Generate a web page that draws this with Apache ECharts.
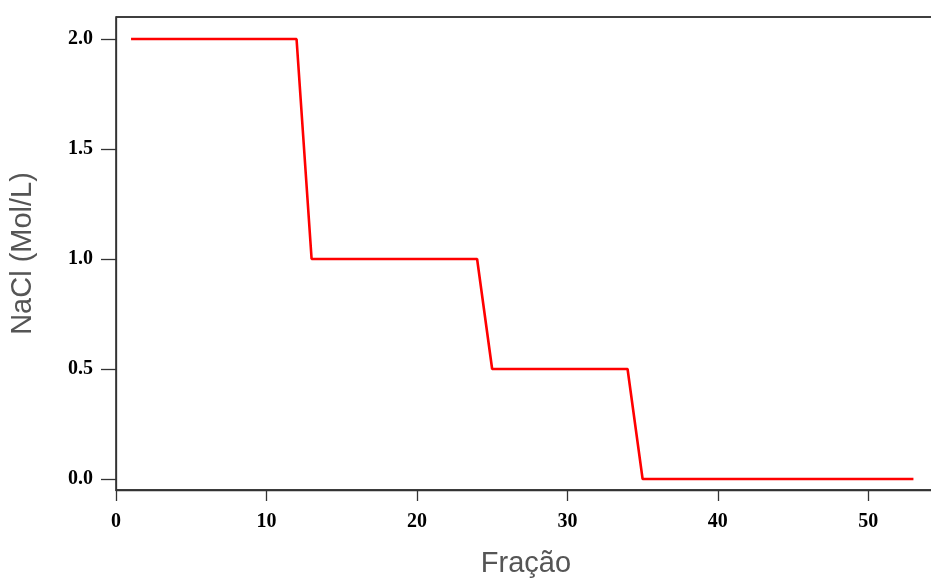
<!DOCTYPE html>
<html>
<head>
<meta charset="utf-8">
<script src="https://cdn.jsdelivr.net/npm/echarts@6/dist/echarts.min.js"></script>
<style>html,body{margin:0;padding:0;background:#fff;}#c{width:931px;height:579px;}</style>
</head>
<body>
<div id="c"></div>
<script>
const fracao = [1, 12, 13, 24, 25, 34, 35, 53];
const nacl = [2.0, 2.0, 1.0, 1.0, 0.5, 0.5, 0.0, 0.0];
const xTicks = [0, 10, 20, 30, 40, 50];
const yTicks = [0.0, 0.5, 1.0, 1.5, 2.0];

const chart = echarts.init(document.getElementById('c'));
chart.setOption({
  animation: false,
  backgroundColor: '#ffffff',
  grid: {left: 116, top: 17, width: 820, height: 473, show: true, borderColor: '#000', borderWidth: 1.3,
    backgroundColor: 'transparent', outerBoundsMode: 'none', containLabel: false},
  xAxis: {
    type: 'value', min: 0, max: 54.5,
    name: 'Fração', nameLocation: 'middle', nameGap: 59,
    nameTextStyle: {fontFamily: 'Liberation Sans', fontSize: 29, color: '#555555'},
    axisLine: {show: true, onZero: false, lineStyle: {color: '#333', width: 1.3}},
    axisTick: {show: true, length: 11, lineStyle: {color: '#333', width: 1.3}, customValues: xTicks},
    axisLabel: {customValues: xTicks, margin: 22, fontFamily: 'Liberation Serif', fontWeight: 'bold', fontSize: 20, color: '#000'},
    splitLine: {show: false}
  },
  yAxis: {
    type: 'value', min: -0.05, max: 2.1,
    name: 'NaCl (Mol/L)', nameLocation: 'middle', nameGap: 79,
    nameTextStyle: {fontFamily: 'Liberation Sans', fontSize: 29, color: '#555555'},
    axisLine: {show: true, onZero: false, lineStyle: {color: '#333', width: 1.3}},
    axisTick: {show: true, length: 15, lineStyle: {color: '#333', width: 1.3}, customValues: yTicks},
    axisLabel: {customValues: yTicks, margin: 23, fontFamily: 'Liberation Serif', fontWeight: 'bold', fontSize: 20, color: '#000',
      formatter: v => v.toFixed(1)},
    splitLine: {show: false}
  },
  series: [{
    type: 'line',
    data: fracao.map((x, i) => [x, nacl[i]]),
    symbol: 'none',
    lineStyle: {color: '#ff0000', width: 2.6}
  }]
});
</script>
</body>
</html>
